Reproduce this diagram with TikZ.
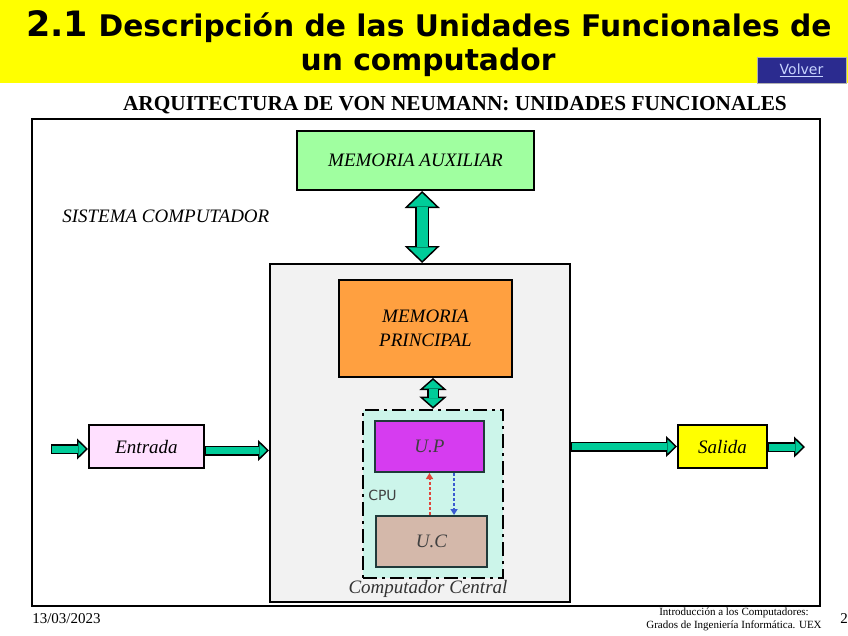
\documentclass[tikz,border=0pt]{standalone}
\usepackage{fontspec}
\setmainfont{Liberation Serif}
\setsansfont{DejaVu Sans}
\usetikzlibrary{arrows.meta}
\definecolor{amarillo}{HTML}{FFFF00}
\definecolor{azulvolver}{HTML}{2B2B8F}
\definecolor{textovolver}{HTML}{C8D4FF}
\definecolor{verdeflecha}{HTML}{00CC99}
\definecolor{verdeaux}{HTML}{A0FFA0}
\definecolor{naranja}{HTML}{FFA040}
\definecolor{grisclaro}{HTML}{F2F2F2}
\definecolor{cianclaro}{HTML}{CCF5EA}
\definecolor{magenta}{HTML}{D63CF0}
\definecolor{marron}{HTML}{D4B8AA}
\definecolor{rosa}{HTML}{FFE0FF}
\definecolor{bordeunidad}{HTML}{1F3A3A}
\definecolor{rojoctl}{HTML}{E0443A}
\definecolor{azulctl}{HTML}{3A5BD0}
\tikzset{
  caja/.style={draw=black, line width=1.5pt, inner sep=0pt, align=center,
    font=\fontsize{14.25}{18}\selectfont\itshape},
  unidad/.style={caja, draw=bordeunidad, text=black!75},
  flecha/.style n args={4}{draw=black, line width=#1,
    -{Triangle[length=#3 0 0, width=#4 0 0, line width=1.1pt 0 0, fill=verdeflecha]},
    postaction={draw=verdeflecha, line width=#2, -, shorten <=1.1pt, shorten >=#3-1pt}},
  bus/.style n args={4}{draw=black, line width=#1,
    {Triangle[length=#3 0 0, width=#4 0 0, line width=1.1pt 0 0, fill=verdeflecha]}-{Triangle[length=#3 0 0, width=#4 0 0, line width=1.1pt 0 0, fill=verdeflecha]},
    postaction={draw=verdeflecha, line width=#2, -, shorten <=#3-1pt, shorten >=#3-1pt}},
  senal/.style={line width=1.5pt, dash pattern=on 2.25pt off 1.5pt,
    -{Triangle[length=4.5pt 0 0, width=5.25pt 0 0]}},
}
\begin{document}
\begin{tikzpicture}[x=0.75pt, y=-0.75pt]
  \useasboundingbox (0,0) rectangle (848,635);
  % cabecera
  \fill[amarillo] (0,0) rectangle (848,83);
  \node[anchor=base, inner sep=0pt, font=\sffamily\bfseries\fontsize{22.3}{26}\selectfont] (titulo1) at (429,37)
    {{\fontsize{26.2}{30}\selectfont 2.1} Descripción de las Unidades Funcionales de};
  \node[anchor=base, inner sep=0pt, font=\sffamily\bfseries\fontsize{22.3}{26}\selectfont] (titulo2) at (428,70) {un computador};
  \node[fill=azulvolver, draw=gray!60, line width=0.75pt, minimum width=66.75pt, minimum height=18.75pt,
    text=textovolver, font=\sffamily\fontsize{10.5}{12}\selectfont] (volver) at (801.5,70.5) {\underline{Volver}};
  \node[anchor=base, inner sep=0pt, font=\bfseries\fontsize{16}{18}\selectfont] (arq) at (455,110)
    {ARQUITECTURA DE VON NEUMANN: UNIDADES FUNCIONALES};

  % sistema computador
  \node[draw=black, line width=1.5pt, minimum width=591pt, minimum height=365.25pt] (sistema) at (426,362.5) {};
  \node[anchor=base west, inner sep=0pt, font=\fontsize{14.25}{18}\selectfont\itshape] (rotsis) at (62,222) {SISTEMA COMPUTADOR};
  \node[caja, fill=verdeaux, minimum width=177.75pt, minimum height=44.25pt] (aux) at (415.5,160.5) {MEMORIA AUXILIAR};

  % computador central
  \node[draw=black, fill=grisclaro, line width=1.5pt, minimum width=225pt, minimum height=253.5pt] (central) at (420,433) {};
  \node[caja, fill=naranja, minimum width=129.75pt, minimum height=72.75pt] (mp) at (425.5,328.5) {MEMORIA\\PRINCIPAL};
  \node[fill=cianclaro, draw=black, line width=1.9pt, dash pattern=on 10.5pt off 3.75pt on 2.25pt off 3.75pt,
    minimum width=105pt, minimum height=126pt] (cpu) at (433,494) {};
  \node[unidad, fill=magenta, minimum width=81.75pt, minimum height=38.25pt] (up) at (429.5,446.5) {U.P};
  \node[unidad, fill=marron, minimum width=83.25pt, minimum height=38.25pt] (uc) at (431.5,541.5) {U.C};
  \node[anchor=base, inner sep=0pt, text=black!75, font=\sffamily\fontsize{10.5}{12}\selectfont] (rotcpu) at (382.5,500) {CPU};
  \node[anchor=base, inner sep=0pt, text=black!80, font=\fontsize{14.25}{18}\selectfont\itshape] (rotcentral) at (428,593) {Computador Central};

  % entrada y salida
  \node[caja, fill=rosa, minimum width=86.25pt, minimum height=32.25pt] (entrada) at (146.5,446.5) {Entrada};
  \node[caja, fill=amarillo, minimum width=66.75pt, minimum height=32.25pt] (salida) at (722.5,446.5) {Salida};
  \coordinate (ein) at (51,449);
  \coordinate (sout) at (805,447);

  % buses
  \draw[bus={10.5pt}{8.25pt}{12.75pt}{26.25pt}] ([xshift=5pt]aux.south) -- ([xshift=5pt]aux.south |- central.north);
  \draw[bus={9pt}{6.75pt}{9pt}{20.25pt}] (cpu.north |- mp.south) -- (cpu.north);
  \draw[flecha={7.5pt}{5.25pt}{8.25pt}{15.75pt}] (ein) -- (ein -| entrada.west);
  \draw[flecha={7.5pt}{5.25pt}{8.25pt}{15.75pt}] ([yshift=-3pt]entrada.east) -- ([yshift=-3pt]entrada.east -| central.west);
  \draw[flecha={7.5pt}{5.25pt}{8.25pt}{15.75pt}] (central.east |- salida) -- (salida.west);
  \draw[flecha={7.5pt}{5.25pt}{8.25pt}{15.75pt}] (salida.east |- sout) -- (sout);

  % control
  \draw[senal, rojoctl] (uc.north -| up) -- (up.south);
  \draw[senal, azulctl] ([xshift=18.4pt]up.south) -- ([xshift=18.4pt]up.south |- uc.north);

  % pie
  \node[anchor=base west, inner sep=0pt, font=\fontsize{11.25}{13}\selectfont] (fecha) at (32,623) {13/03/2023};
  \node[anchor=base, inner sep=0pt, align=center, font=\fontsize{8.25}{9.75}\selectfont] (curso) at (734,628)
    {Introducción a los Computadores:\\Grados de Ingeniería Informática. UEX};
  \node[anchor=base west, inner sep=0pt, font=\fontsize{11.25}{13}\selectfont] (pagina) at (840,623) {2};
\end{tikzpicture}
\end{document}
